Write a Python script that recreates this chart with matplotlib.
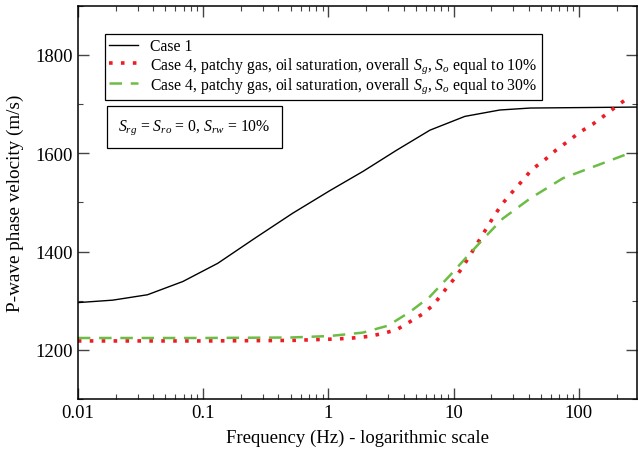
import matplotlib
matplotlib.use("Agg")
import matplotlib.pyplot as plt
from matplotlib.ticker import MultipleLocator, FixedLocator, NullFormatter

plt.rcParams["font.family"] = ["Liberation Serif", "DejaVu Serif"]
plt.rcParams["mathtext.fontset"] = "custom"
plt.rcParams["mathtext.rm"] = "Liberation Serif"
plt.rcParams["mathtext.it"] = "Liberation Serif:italic"

# Case 1 (black solid)
case1_freq = [0.01, 0.019, 0.036, 0.069, 0.131, 0.259, 0.52, 1.03, 1.89, 3.5, 6.48, 12.3, 23.4, 40.9, 300]
case1_vel = [1296, 1301, 1312, 1339, 1376, 1427, 1478, 1524, 1563, 1606, 1647, 1675, 1688, 1692, 1694]

# Case 4, Sg/So = 10% (red dotted)
gas10_freq = [0.01, 0.1, 0.5, 1.17, 1.57, 2.07, 2.72, 3.52, 4.48, 5.68, 6.95, 8.2, 9.86, 11.6, 13.5,
              15.6, 18.1, 20.9, 24.3, 29.2, 35.1, 42.2, 52.6, 65.5, 81.7, 102, 129, 161, 201, 251]
gas10_vel = [1218, 1218, 1219, 1222, 1224, 1227, 1233, 1241, 1257, 1273, 1292, 1316, 1341, 1365, 1392,
             1418, 1445, 1471, 1496, 1520, 1543, 1567, 1585, 1606, 1624, 1643, 1659, 1677, 1696, 1714]

# Case 4, Sg/So = 30% (green dashed)
gas30_freq = [0.01, 0.1, 0.5, 1.03, 1.89, 2.99, 4.48, 6.46, 9.33, 13.5, 18.4, 24.7, 40.9, 74.5, 139, 265]
gas30_vel = [1224, 1224, 1225, 1228, 1235, 1249, 1277, 1308, 1351, 1396, 1433, 1467, 1508, 1549, 1575, 1602]

x_ticks = [0.01, 0.1, 1, 10, 100]
x_labels = ["0.01", "0.1", "1", "10", "100"]

fig = plt.figure(figsize=(6.38, 4.56), dpi=100)
ax = fig.add_axes([0.122, 0.123, 0.876, 0.862])

ax.plot(case1_freq, case1_vel, color="black", lw=1.0, label="Case 1")
ax.plot(gas10_freq, gas10_vel, color="#ee1c25", lw=2.6, linestyle=(0, (1, 2.3)),
        label=r"Case 4, patchy gas, oil saturation, overall $S_g$, $S_o$ equal to 10%")
ax.plot(gas30_freq, gas30_vel, color="#6cbd45", lw=1.8, linestyle=(0, (5, 3.5)),
        label=r"Case 4, patchy gas, oil saturation, overall $S_g$, $S_o$ equal to 30%")

ax.set_xscale("log")
ax.set_xlim(0.01, 290)
ax.set_ylim(1100, 1900)
ax.xaxis.set_major_locator(FixedLocator(x_ticks))
ax.set_xticklabels(x_labels)
ax.xaxis.set_minor_formatter(NullFormatter())
ax.yaxis.set_major_locator(MultipleLocator(200))
ax.yaxis.set_minor_locator(MultipleLocator(100))

ax.tick_params(which="both", direction="in", top=True, right=True, labelsize=13.5, color="#444444")
ax.tick_params(which="major", length=8, width=1.0)
ax.tick_params(which="minor", length=3.6, width=0.8)
for s in ax.spines.values():
    s.set_linewidth(1.1)

ax.set_xlabel("Frequency (Hz) - logarithmic scale", fontsize=13.5, labelpad=6)
ax.set_ylabel("P-wave phase velocity (m/s)", fontsize=13.8, labelpad=8)

leg = ax.legend(loc="upper left", bbox_to_anchor=(0.048, 0.929), borderaxespad=0,
                fontsize=11.3, fancybox=False, edgecolor="black", framealpha=1,
                handlelength=1.8, handletextpad=0.8, labelspacing=0.05, borderpad=0.3)
leg.get_frame().set_linewidth(0.9)

ax.text(0.072, 0.692, r"$S_{rg}$ = $S_{ro}$ = 0, $S_{rw}$ = 10%", transform=ax.transAxes,
        fontsize=11.3, va="center", ha="left",
        bbox=dict(boxstyle="square,pad=0.72", facecolor="white", edgecolor="black", lw=0.9))

fig.savefig("out.png", dpi=100)
